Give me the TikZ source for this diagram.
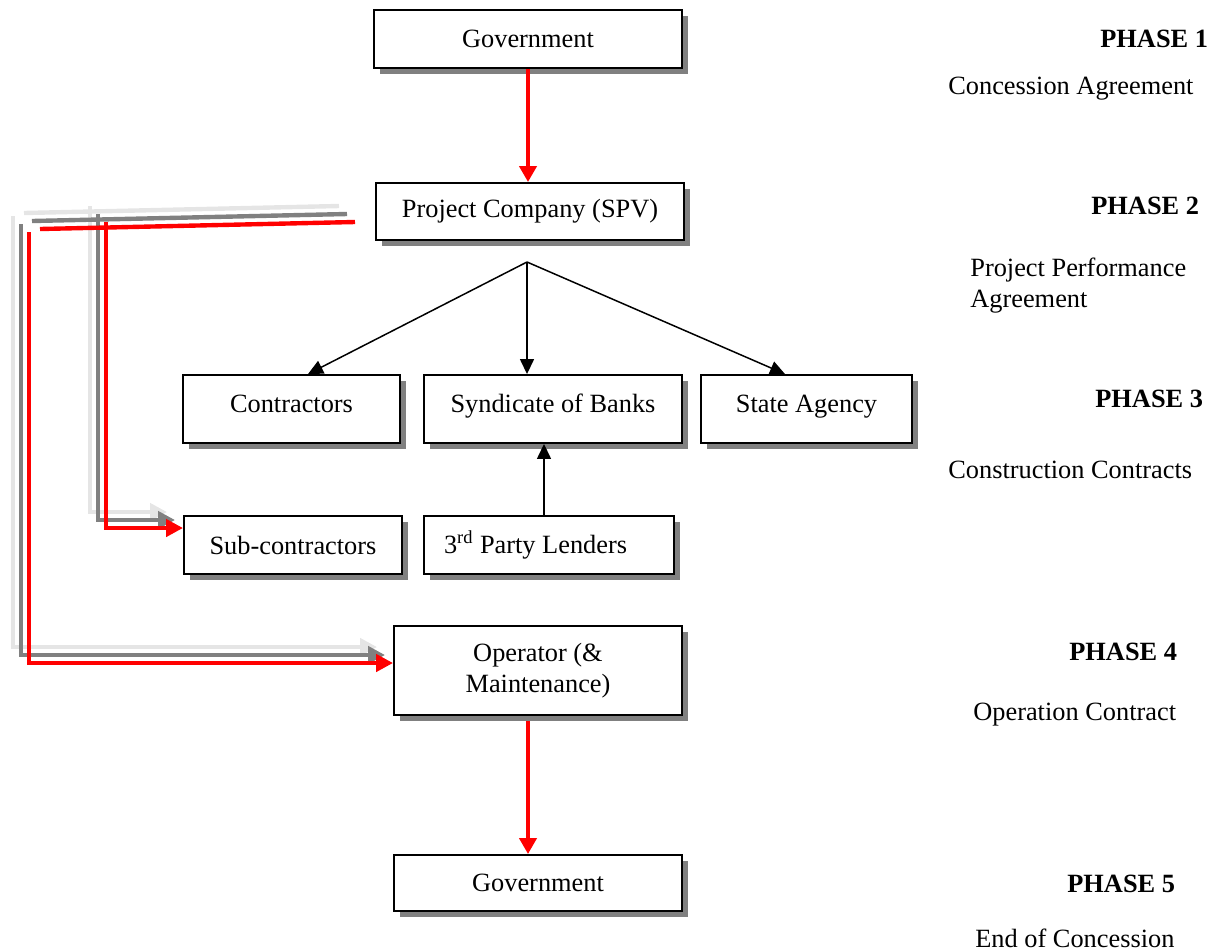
\documentclass[tikz,border=0pt]{standalone}
\usepackage{fontspec}
\setmainfont{Liberation Serif}
\usetikzlibrary{arrows.meta,shadows}

\begin{document}
\begin{tikzpicture}[x=0.02cm,y=-0.02cm,
  box/.style={draw=black,line width=1.1pt,fill=white,inner sep=0pt,
    drop shadow={shadow xshift=0.12cm,shadow yshift=-0.12cm,fill=black!50,opacity=1},
    font=\fontsize{15}{18}\selectfont},
  topbox/.style={box,text height=0.36cm,text depth=0.24cm},
  phase/.style={anchor=base west,inner sep=0pt,font=\fontsize{15}{18}\selectfont\bfseries},
  stage/.style={anchor=base west,inner sep=0pt,align=left,font=\fontsize{15}{17.5}\selectfont},
  redarrow/.style={red,line width=2.5pt,-{Triangle[length=0.32cm,width=0.34cm]}},
  link/.style={black,line width=0.85pt,-{Triangle[length=0.3cm,width=0.28cm]}},
  flow/.style={line width=2.5pt,-{Triangle[length=0.34cm,width=0.34cm]}}]
\useasboundingbox (0,0) rectangle (1220,951);

% boxes
\node[box,minimum width=6.16cm,minimum height=1.16cm] (gov) at (528,39) {Government};
\node[box,minimum width=6.16cm,minimum height=1.14cm] (spv) at (530,211.5) {Project Company (SPV)};
\node[topbox,minimum width=4.34cm,minimum height=1.36cm] (contr) at (291.5,409) {Contractors};
\node[topbox,minimum width=5.16cm,minimum height=1.36cm] (banks) at (553,409) {Syndicate of Banks};
\node[topbox,minimum width=4.22cm,minimum height=1.36cm] (agency) at (806.5,409) {State Agency};
\node[box,minimum width=4.36cm,minimum height=1.16cm] (sub) at (293,545) {Sub-contractors};
\node[box,minimum height=1.16cm,text width=4.2cm,inner xsep=0.4cm,align=flush left] (lenders) at (549,545) {3\textsuperscript{rd} Party Lenders};
\node[box,minimum width=5.76cm,minimum height=1.78cm,align=center] (oper) at (538,670.5) {Operator (\&\\Maintenance)};
\node[box,minimum width=5.76cm,minimum height=1.12cm] (gov2) at (538,883) {Government};

% phases
\node[phase] (p1) at (1100,47) {PHASE 1};
\node[stage] (s1) at (948,94) {Concession Agreement};
\node[phase] (p2) at (1091,214) {PHASE 2};
\node[stage] (s2) at (970,307) {Project Performance\\Agreement};
\node[phase] (p3) at (1095,407) {PHASE 3};
\node[stage] (s3) at (948,478) {Construction Contracts};
\node[phase] (p4) at (1069,660) {PHASE 4};
\node[stage] (s4) at (973,720) {Operation Contract};
\node[phase] (p5) at (1067,892) {PHASE 5};
\node[stage] (s5) at (975,947) {End of Concession};

% main flow
\draw[redarrow] (gov.south) -- (gov.south |- spv.north);
\draw[redarrow] ([xshift=-0.2cm,yshift=-0.1cm]oper.south) -- ([xshift=-0.2cm]oper.south |- gov2.north);

\coordinate (hub) at (527,262);
\draw[link] (hub) -- ([xshift=0.33cm]contr.north);
\draw[link] (hub) -- (hub |- banks.north);
\draw[link] (hub) -- ([xshift=-0.43cm]agency.north);
\draw[link] ([xshift=-0.1cm]lenders.north) -- ([xshift=-0.1cm]lenders.north |- banks.south);

% shadowed arrows on the left
\coordinate (feed) at (355,222);
\coordinate (bend) at (40,229);
\coordinate (drop1) at (106,222);
\coordinate (drop2) at (29,232);
\foreach \col/\k in {black!10/2,black!50/1,red/0}{
  \begin{scope}[transform canvas={xshift=-\k*0.16cm,yshift=\k*0.16cm}]
    \draw[\col,line width=2.5pt] (feed) -- (bend);
    \draw[flow,\col] (drop1) |- ([yshift=0.34cm]sub.west);
    \draw[flow,\col] (drop2) |- ([yshift=0.15cm]oper.west);
  \end{scope}
}
\end{tikzpicture}
\end{document}
